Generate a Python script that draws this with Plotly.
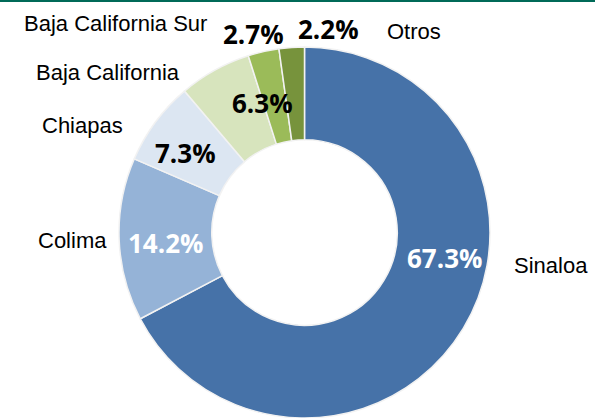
import plotly.graph_objects as go

W, H = 595, 418

states = ["Sinaloa", "Colima", "Chiapas", "Baja California", "Baja California Sur", "Otros"]
shares = [67.3, 14.2, 7.3, 6.3, 2.7, 2.2]
colors = ["#4672A8", "#95B3D7", "#DCE6F2", "#D7E4BD", "#9BBB59", "#77933C"]
pct_colors = ["white", "white", "black", "black", "black", "black"]

# label centres in pixels (name, percent)
name_pos = [(551, 265), (72, 241), (82, 125), (108, 72), (115, 23), (414, 31)]
pct_pos = [(444, 258), (165, 243), (185, 153), (262, 103), (253, 34), (328, 29)]


def paper(px, py):
    return px / W, 1 - py / H


fig = go.Figure(go.Pie(
    labels=states,
    values=shares,
    hole=0.5,
    sort=False,
    direction="clockwise",
    rotation=0,
    marker=dict(colors=colors, line=dict(color="#F2F2F2", width=1.5)),
    textinfo="none",
    hoverinfo="label+percent",
    showlegend=False,
    domain=dict(x=[117 / W, 492 / W], y=[0, 1 - 47 / H]),
))

for i, name in enumerate(states):
    x, y = paper(*name_pos[i])
    fig.add_annotation(x=x, y=y, xref="paper", yref="paper", text=name,
                       showarrow=False, xanchor="center", yanchor="middle",
                       font=dict(family="Liberation Sans, Arial", size=22, color="black"))
    x, y = paper(*pct_pos[i])
    fig.add_annotation(x=x, y=y, xref="paper", yref="paper", text=f"{shares[i]:.1f}%",
                       showarrow=False, xanchor="center", yanchor="middle",
                       font=dict(family="Open Sans", size=26, color=pct_colors[i], weight="bold"))

# dark band along the top edge
fig.add_shape(type="rect", xref="paper", yref="paper", x0=0, x1=1, y0=1 - 2 / H, y1=1,
              fillcolor="#006A58", line=dict(width=0))

fig.update_layout(
    width=W, height=H,
    margin=dict(l=0, r=0, t=0, b=0),
    paper_bgcolor="white",
    plot_bgcolor="white",
)

# drop the default page margin so the figure sits at the window corner
fig.write_html("out.html", config={"displayModeBar": False},
               post_script="document.body.style.margin='0';document.body.style.overflow='hidden';")
